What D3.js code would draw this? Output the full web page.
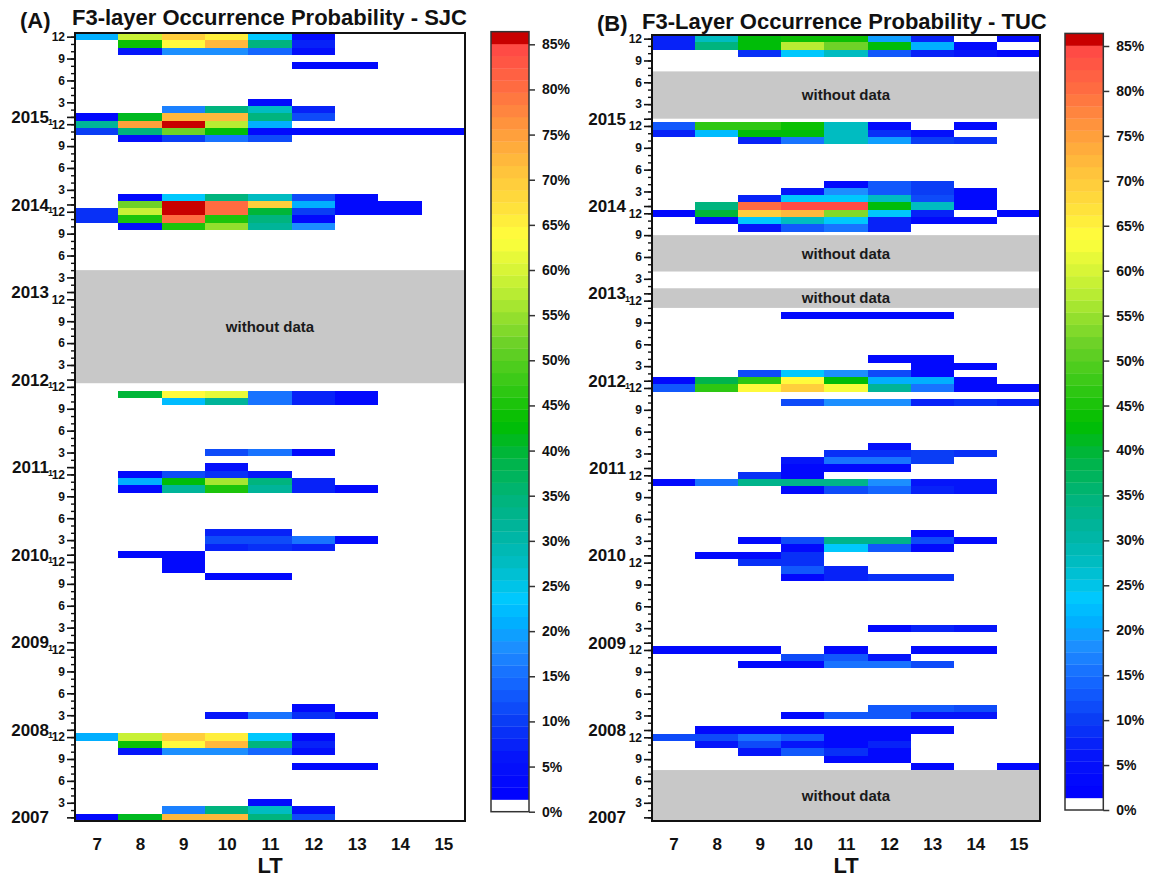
<!DOCTYPE html>
<html>
<head>
<meta charset="utf-8">
<script src="https://cdn.jsdelivr.net/npm/d3@7"></script>
<style>
  body { margin: 0; background: #fff; }
  text { font-family: "Liberation Sans", Arial, sans-serif; font-weight: bold; fill: #111; }
</style>
</head>
<body>
<svg id="chart" width="1150" height="877"></svg>
<script>
// ---------------------------------------------------------------------------
// Data: monthly F3-layer occurrence probability (%) per local-time hour.
// null = no occurrence. Months are "YYYY-MM"; the time axis runs Jan 2007 - Dec 2015.
// ---------------------------------------------------------------------------
const _ = null;
const ltHours = [7, 8, 9, 10, 11, 12, 13, 14, 15];
const years = [2007, 2008, 2009, 2010, 2011, 2012, 2013, 2014, 2015];
const monthTickLabels = [3, 6, 9, 12];
const colorbarTicks = [0, 5, 10, 15, 20, 25, 30, 35, 40, 45, 50, 55, 60, 65, 70, 75, 80, 85];

// São José dos Campos (SJC)
const sjcMonths = [
  "2015-12", "2015-11", "2015-10", "2015-08", "2015-03", "2015-02", "2015-01",
  "2014-12", "2014-11", "2014-10", "2014-02", "2014-01",
  "2013-12", "2013-11", "2013-10",
  "2011-11", "2011-10", "2011-03", "2011-01",
  "2010-12", "2010-11", "2010-10", "2010-04", "2010-03", "2010-02", "2010-01",
  "2009-12", "2009-11", "2009-10",
  "2008-04", "2008-03",
  "2007-12", "2007-11", "2007-10", "2007-08", "2007-03", "2007-02", "2007-01"
];
const sjcValues = [
  [21, 59, 69, 65, 23, 4, _, _, _],
  [_, 44, 64, 72, 34, 8, _, _, _],
  [_, 6, 18, 18, 14, 5, _, _, _],
  [_, _, _, _, _, 4, 4, _, _],
  [_, _, _, _, 4, _, _, _, _],
  [_, _, 17, 34, 27, 7, _, _, _],
  [4, 41, 72, 72, 34, 12, _, _, _],
  [32, 75, 86, 57, 21, _, _, _, _],
  [10, 35, 52, 43, 4, 4, 4, 4, 4],
  [_, 5, 10, 16, 12, _, _, _, _],
  [_, 4, 23, 34, 27, 12, 3, _, _],
  [_, 52, 86, 81, 70, 21, 3, 3, _],
  [9, 59, 86, 81, 40, 10, 3, 3, _],
  [9, 45, 80, 45, 34, 4, _, _, _],
  [_, 5, 45, 54, 32, 18, _, _, _],
  [_, 40, 64, 62, 16, 8, 4, _, _],
  [_, _, 22, 32, 16, 8, 4, _, _],
  [_, _, _, 11, 16, 4, _, _, _],
  [_, _, _, 5, _, _, _, _, _],
  [_, 4, 11, 9, 6, _, _, _, _],
  [_, 21, 43, 56, 34, 8, _, _, _],
  [_, 4, 32, 45, 32, 8, 4, _, _],
  [_, _, _, 8, 8, _, _, _, _],
  [_, _, _, 11, 11, 16, 4, _, _],
  [_, _, _, 7, 9, 7, _, _, _],
  [_, 4, 4, _, _, _, _, _, _],
  [_, _, 4, _, _, _, _, _, _],
  [_, _, 4, _, _, _, _, _, _],
  [_, _, _, 4, 4, _, _, _, _],
  [_, _, _, _, _, 4, _, _, _],
  [_, _, _, 6, 16, 9, 4, _, _],
  [21, 59, 69, 65, 23, 4, _, _, _],
  [_, 44, 64, 72, 34, 8, _, _, _],
  [_, 6, 18, 18, 14, 5, _, _, _],
  [_, _, _, _, _, 4, 4, _, _],
  [_, _, _, _, 4, _, _, _, _],
  [_, _, 17, 34, 27, 5, _, _, _],
  [4, 41, 72, 72, 34, 12, _, _, _]
];
// Periods without observations, in months since Jan 2007 (cell centres are whole numbers)
const sjcNoData = [[59.5, 75]];
const sjcJanMarks = [2008, 2009, 2010, 2011, 2012, 2014, 2015];

// Tucumán (TUC)
const tucMonths = [
  "2015-12", "2015-11", "2015-10",
  "2014-12", "2014-11", "2014-10", "2014-04", "2014-03", "2014-02", "2014-01",
  "2013-12", "2013-11", "2013-10",
  "2012-10", "2012-04", "2012-03", "2012-02", "2012-01",
  "2011-12", "2011-10", "2011-04", "2011-03", "2011-02", "2011-01",
  "2010-12", "2010-11", "2010-10", "2010-04", "2010-03", "2010-02", "2010-01",
  "2009-12", "2009-11", "2009-10", "2009-03",
  "2008-12", "2008-11", "2008-10", "2008-04", "2008-03", "2008-01",
  "2007-12", "2007-11", "2007-10", "2007-09", "2007-08"
];
const tucValues = [
  [8, 28, 42, 44, 44, 20, 8, _, 4],
  [8, 34, 43, 58, 52, 42, 21, 4, _],
  [_, _, 9, 23, 27, 13, 8, 6, 4],
  [13, 46, 46, 44, 27, 4, _, 4, _],
  [8, 22, 42, 42, 27, 9, 5, _, _],
  [_, _, 8, 16, 27, 19, 10, 9, _],
  [_, _, _, _, 4, 13, 10, _, _],
  [_, _, _, 6, 18, 13, 10, 4, _],
  [_, _, 8, 23, 23, 27, 12, 4, _],
  [_, 34, 80, 84, 84, 42, 27, 4, _],
  [4, 40, 70, 72, 53, 23, 8, _, 4],
  [_, 4, 23, 27, 23, 8, 4, 4, _],
  [_, _, 6, 13, 16, 8, _, _, _],
  [_, _, _, 4, 4, 4, 4, _, _],
  [_, _, _, _, _, 4, 4, _, _],
  [_, _, _, _, _, _, 4, 4, _],
  [_, _, 12, 23, 18, 12, 4, _, _],
  [4, 38, 46, 64, 43, 21, 21, 4, _],
  [13, 46, 64, 70, 63, 32, 16, 4, 4],
  [_, _, _, 12, 18, 18, 8, 9, 8],
  [_, _, _, _, _, 5, _, _, _],
  [_, _, _, _, 9, 9, 10, 9, _],
  [_, _, _, 6, 16, 16, 10, _, _],
  [_, _, _, 4, 4, 4, _, _, _],
  [_, _, 9, 4, _, _, _, _, _],
  [4, 16, 33, 33, 33, 18, 6, 6, _],
  [_, _, _, 4, 12, 14, 7, 6, _],
  [_, _, _, _, _, _, 4, _, _],
  [_, _, 4, 11, 33, 33, 11, 4, _],
  [_, _, _, 4, 23, 13, 4, _, _],
  [_, 4, 4, 9, _, _, _, _, _],
  [_, _, 9, 9, _, _, _, _, _],
  [_, _, _, 13, 8, _, _, _, _],
  [_, _, _, 4, 8, 9, 9, _, _],
  [_, _, _, _, _, 4, 8, 6, _],
  [4, 4, 4, _, 4, _, 4, 4, _],
  [_, _, _, 12, 13, 6, _, _, _],
  [_, _, 4, 4, 16, 16, 11, _, _],
  [_, _, _, _, _, 13, 13, 11, _],
  [_, _, _, 4, 13, 13, 6, 6, _],
  [_, 4, 4, 4, 4, 4, 4, _, _],
  [11, 11, 16, 13, 4, 4, _, _, _],
  [_, 6, 11, 6, 4, 8, _, _, _],
  [_, _, 6, 13, 9, 4, _, _, _],
  [_, _, _, _, 4, 4, _, _, _],
  [_, _, _, _, _, _, 4, _, 4]
];
const tucNoData = [[96, 102.5], [75, 80], [70, 72.7], [-0.5, 6.5]];
const tucJanMarks = [2012, 2013];

// ---------------------------------------------------------------------------
// Colour map: 64 discrete levels from 0 to ~86.4 %, lowest level blank.
// ---------------------------------------------------------------------------
const levelCount = 64;
const maxProb = 86.4;
const levelStep = maxProb / levelCount;
const paletteStops = [
  [1.35, "#0000ff"], [6, "#0514fa"], [10, "#0a3cf5"], [14, "#1464ff"], [18, "#1e8cff"],
  [21, "#00b0ff"], [23.5, "#00c8ff"], [27, "#00bec8"], [31, "#00b4a0"], [35, "#00b478"],
  [39, "#00b446"], [43, "#00be00"], [47, "#32c814"], [52, "#6ed228"], [57, "#b4eb32"],
  [60, "#d7f537"], [63.5, "#ffff3c"], [67, "#ffe13c"], [71, "#ffc33c"], [75, "#ff9f3c"],
  [80, "#ff6e41"], [85, "#ff4646"], [85.05, "#c80000"], [87, "#c80000"]
];
const paletteScale = d3.scaleLinear()
  .domain(paletteStops.map(d => d[0]))
  .range(paletteStops.map(d => d[1]))
  .interpolate(d3.interpolateRgb)
  .clamp(true);
function levelColor(level) {
  return level === 0 ? "#ffffff" : paletteScale((level + 0.5) * levelStep);
}
function probColor(v) {
  return levelColor(Math.min(levelCount - 1, Math.floor(v / levelStep)));
}
function monthIndex(s) {
  const [yy, mm] = s.split("-").map(Number);
  return (yy - 2007) * 12 + (mm - 1);
}

const svg = d3.select("#chart");

const panels = [
  {
    tag: "(A)", title: "F3-layer Occurrence Probability - SJC",
    months: sjcMonths, values: sjcValues, gaps: sjcNoData, janMarks: sjcJanMarks,
    x0: 75, x1: 465, y0: 33, y1: 821,
    tagX: 20, tagY: 28, titleX: 72, titleY: 25,
    cbX0: 491, cbX1: 529, cbZero: 811.7, cb85: 44.3
  },
  {
    tag: "(B)", title: "F3-Layer Occurrence Probability - TUC",
    months: tucMonths, values: tucValues, gaps: tucNoData, janMarks: tucJanMarks,
    x0: 652, x1: 1040, y0: 35, y1: 821,
    tagX: 597, tagY: 31, titleX: 642, titleY: 29,
    cbX0: 1065, cbX1: 1103.3, cbZero: 810, cb85: 46
  }
];

panels.forEach(drawPanel);

function drawPanel(p) {
  const g = svg.append("g");
  const x = d3.scaleLinear().domain([6.5, 15.5]).range([p.x0, p.x1]);
  const y = d3.scaleLinear().domain([-0.5, 107.5]).range([p.y1, p.y0]);

  // periods without data
  g.selectAll("rect.gap").data(p.gaps).join("rect")
    .attr("class", "gap")
    .attr("x", p.x0).attr("width", p.x1 - p.x0)
    .attr("y", d => y(d[1]))
    .attr("height", d => y(d[0]) - y(d[1]))
    .attr("fill", "#c8c8c8");
  g.selectAll("text.gap").data(p.gaps).join("text")
    .attr("class", "gap")
    .attr("x", (p.x0 + p.x1) / 2)
    .attr("y", d => (y(d[0]) + y(d[1])) / 2)
    .attr("dy", "0.36em")
    .attr("text-anchor", "middle")
    .attr("font-size", 15)
    .style("fill", "#1a1a1a")
    .text("without data");

  // probability cells
  const cells = [];
  p.months.forEach((m, i) => {
    const idx = monthIndex(m);
    p.values[i].forEach((v, j) => {
      if (v != null) cells.push({ idx, lt: ltHours[j], v });
    });
  });
  g.selectAll("rect.cell").data(cells).join("rect")
    .attr("class", "cell")
    .attr("x", d => x(d.lt - 0.5))
    .attr("width", d => x(d.lt + 0.5) - x(d.lt - 0.5))
    .attr("y", d => y(d.idx + 0.5))
    .attr("height", d => y(d.idx - 0.5) - y(d.idx + 0.5))
    .attr("fill", d => probColor(d.v))
    .attr("shape-rendering", "crispEdges");

  // month axis: minor ticks every month, longer ticks at quarters and January
  const allMonths = d3.range(0, 108);
  g.append("g")
    .attr("transform", `translate(${p.x0},0)`)
    .call(d3.axisLeft(y).tickValues(allMonths).tickSize(4).tickFormat(""))
    .call(a => a.select(".domain").remove())
    .call(a => a.selectAll("line").attr("stroke", "#111").attr("stroke-width", 1.4));
  const majorMonths = allMonths.filter(i => i % 12 === 0 || monthTickLabels.includes(i % 12 + 1));
  g.append("g")
    .attr("transform", `translate(${p.x0},0)`)
    .call(d3.axisLeft(y).tickValues(majorMonths).tickSize(8).tickPadding(2)
      .tickFormat(i => (i % 12 === 0 ? "" : String(i % 12 + 1))))
    .call(a => a.select(".domain").remove())
    .call(a => a.selectAll("line").attr("stroke", "#111").attr("stroke-width", 1.6))
    .call(a => a.selectAll("text").attr("font-size", 12).style("fill", "#111")
      .attr("font-family", null));

  // year labels at each January
  g.selectAll("text.year").data(years).join("text")
    .attr("class", "year")
    .attr("x", p.x0 - 26)
    .attr("y", d => y((d - 2007) * 12))
    .attr("dy", "0.36em")
    .attr("text-anchor", "end")
    .attr("font-size", 17)
    .text(d => d);
  g.selectAll("text.janmark").data(p.janMarks).join("text")
    .attr("class", "janmark")
    .attr("x", p.x0 - 27)
    .attr("y", d => y((d - 2007) * 12) + 8.5)
    .attr("font-size", 9)
    .text("1");

  // LT axis
  g.append("g")
    .attr("transform", `translate(0,${p.y1})`)
    .call(d3.axisBottom(x).tickValues(ltHours).tickSize(0).tickPadding(17))
    .call(a => a.select(".domain").remove())
    .call(a => a.selectAll("text").attr("font-size", 17).style("fill", "#111")
      .attr("font-family", null));
  g.append("text")
    .attr("x", (p.x0 + p.x1) / 2)
    .attr("y", 873)
    .attr("text-anchor", "middle")
    .attr("font-size", 22)
    .text("LT");

  // frame
  g.append("rect")
    .attr("x", p.x0).attr("y", p.y0)
    .attr("width", p.x1 - p.x0).attr("height", p.y1 - p.y0)
    .attr("fill", "none").attr("stroke", "#111").attr("stroke-width", 2);

  // titles
  g.append("text").attr("x", p.tagX).attr("y", p.tagY).attr("font-size", 22).text(p.tag);
  g.append("text").attr("x", p.titleX).attr("y", p.titleY).attr("font-size", 22).text(p.title);

  // colour bar
  const cb = d3.scaleLinear().domain([0, 85]).range([p.cbZero, p.cb85]);
  g.selectAll("rect.level").data(d3.range(levelCount)).join("rect")
    .attr("class", "level")
    .attr("x", p.cbX0).attr("width", p.cbX1 - p.cbX0)
    .attr("y", l => cb((l + 1) * levelStep))
    .attr("height", l => cb(l * levelStep) - cb((l + 1) * levelStep) + 0.3)
    .attr("fill", l => levelColor(l));
  g.append("rect")
    .attr("x", p.cbX0).attr("y", cb(maxProb))
    .attr("width", p.cbX1 - p.cbX0).attr("height", cb(0) - cb(maxProb))
    .attr("fill", "none").attr("stroke", "#333").attr("stroke-width", 1.5);
  g.append("g")
    .attr("transform", `translate(${p.cbX1},0)`)
    .call(d3.axisRight(cb).tickValues(colorbarTicks).tickSize(6).tickPadding(7)
      .tickFormat(d => d + "%"))
    .call(a => a.select(".domain").remove())
    .call(a => a.selectAll("line").attr("stroke", "#333").attr("stroke-width", 1.5))
    .call(a => a.selectAll("text").attr("font-size", 14).style("fill", "#111")
      .attr("font-family", null));
}
</script>
</body>
</html>
